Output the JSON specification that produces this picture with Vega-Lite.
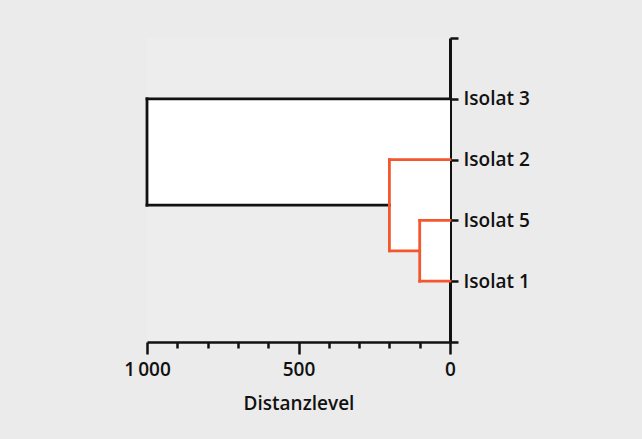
{
  "$schema": "https://vega.github.io/schema/vega-lite/v6.json",
  "autosize": "none",
  "width": 303,
  "height": 304,
  "padding": {"left": 147, "top": 38, "right": 192, "bottom": 97},
  "background": "#ebebeb",
  "config": {
    "view": {"stroke": null, "fill": "#ededee"},
    "font": "Open Sans"
  },
  "datasets": {
    "boxes": [
      {"x": 0, "x2": 1000, "y": 1, "y2": 2.75},
      {"x": 0, "x2": 200, "y": 2, "y2": 3.5},
      {"x": 0, "x2": 100, "y": 3, "y2": 4}
    ],
    "links": [
      {"x": 0, "x2": 1000, "y": 1, "y2": 1, "grp": "a"},
      {"x": 1000, "x2": 1000, "y": 1, "y2": 2.75, "grp": "a"},
      {"x": 1000, "x2": 200, "y": 2.75, "y2": 2.75, "grp": "a"},
      {"x": 0, "x2": 200, "y": 2, "y2": 2, "grp": "b"},
      {"x": 200, "x2": 200, "y": 2, "y2": 3.5, "grp": "b"},
      {"x": 200, "x2": 100, "y": 3.5, "y2": 3.5, "grp": "b"},
      {"x": 100, "x2": 100, "y": 3, "y2": 4, "grp": "b"},
      {"x": 100, "x2": 0, "y": 3, "y2": 3, "grp": "b"},
      {"x": 100, "x2": 0, "y": 4, "y2": 4, "grp": "b"}
    ]
  },
  "encoding": {
    "x": {
      "field": "x",
      "type": "quantitative",
      "scale": {"domain": [0, 1000], "reverse": true, "nice": false},
      "axis": {
        "orient": "bottom",
        "values": [0, 100, 200, 300, 400, 500, 600, 700, 800, 900, 1000],
        "labelExpr": "datum.value % 500 === 0 ? replace(format(datum.value, ','), ',', '\u2009') : ''",
        "tickSize": {"condition": {"test": "datum.value % 500 === 0", "value": 12}, "value": 6},
        "tickColor": "#111111",
        "tickWidth": 2.5,
        "domainColor": "#111111",
        "domainWidth": 2.5,
        "grid": false,
        "labelColor": "#111111",
        "labelFontSize": 19,
        "labelFontWeight": 600,
        "labelPadding": 6,
        "labelFlush": false,
        "labelOverlap": false,
        "title": "Distanzlevel",
        "titleFontSize": 19,
        "titleFontWeight": 600,
        "titleColor": "#111111",
        "titlePadding": 15
      }
    },
    "x2": {"field": "x2"},
    "y": {
      "field": "y",
      "type": "quantitative",
      "scale": {"domain": [0, 5], "reverse": true, "nice": false},
      "axis": {
        "orient": "right",
        "values": [0, 1, 2, 3, 4, 5],
        "labelExpr": "datum.value === 1 ? 'Isolat 3' : datum.value === 2 ? 'Isolat 2' : datum.value === 3 ? 'Isolat 5' : datum.value === 4 ? 'Isolat 1' : ''",
        "tickSize": 8,
        "tickColor": "#111111",
        "tickWidth": 2.5,
        "domainColor": "#111111",
        "domainWidth": 3,
        "grid": false,
        "labelColor": "#111111",
        "labelFontSize": 19,
        "labelFontWeight": 600,
        "labelPadding": 5,
        "labelFlush": false,
        "labelOverlap": false,
        "title": null
      }
    },
    "y2": {"field": "y2"}
  },
  "layer": [
    {
      "data": {"name": "boxes"},
      "mark": {"type": "rect", "fill": "white"}
    },
    {
      "data": {"name": "links"},
      "mark": {"type": "rule", "strokeWidth": 2.8, "strokeCap": "square"},
      "encoding": {
        "color": {
          "field": "grp",
          "type": "nominal",
          "scale": {"domain": ["a", "b"], "range": ["#111111", "#f4562d"]},
          "legend": null
        }
      }
    }
  ]
}
